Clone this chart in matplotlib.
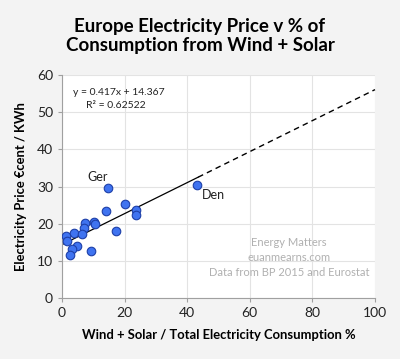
import matplotlib
matplotlib.use("Agg")
import matplotlib.pyplot as plt
import numpy as np

plt.rcParams['font.family'] = ['Lato', 'DejaVu Sans']

# share of wind + solar in electricity consumption (%) and price (€cent/KWh)
wind_solar = [14.6, 43.0, 20.2, 13.9, 23.6, 23.6, 7.2, 10.2, 10.7, 7.1,
              17.2, 3.8, 6.3, 1.4, 1.7, 4.8, 3.3, 2.6, 9.3]
price = [29.7, 30.4, 25.4, 23.4, 23.8, 22.3, 20.2, 20.4, 20.0, 18.7,
         18.0, 17.6, 17.2, 16.7, 15.4, 14.1, 13.1, 11.5, 12.6]
labels = {"Ger": (14.6, 29.7), "Den": (43.0, 30.4)}

slope = 0.417
intercept = 14.367
r2 = 0.62522

fig = plt.figure(figsize=(4.0, 3.59), dpi=100, facecolor="#f3f3f3")
ax = fig.add_axes([62 / 400, 1 - 298 / 359, 313 / 400, 223 / 359])
ax.set_facecolor("white")

ax.set_xlim(0, 100)
ax.set_ylim(0, 60)
ax.set_xticks(range(0, 101, 20))
ax.set_yticks(range(0, 61, 10))
ax.grid(True, color="#e3e3e3", linewidth=0.8)
ax.set_axisbelow(True)
for s in ["top", "right"]:
    ax.spines[s].set_visible(False)
for s in ["left", "bottom"]:
    ax.spines[s].set_color("#a0a0a0")
ax.tick_params(colors="#a0a0a0", labelcolor="#222222", labelsize=10, length=3)

# trend line: solid over data range, dashed forecast to 100
x_solid = np.array([0, 43.5])
x_dash = np.array([43.5, 100])
ax.plot(x_solid, slope * x_solid + intercept, color="black", lw=0.9, zorder=2)
ax.plot(x_dash, slope * x_dash + intercept, color="black", lw=1.0,
        ls=(0, (4, 3)), zorder=2, clip_on=False)

ax.scatter(wind_solar, price, s=38, color="#3f73f0", edgecolors="#1d3fa8",
           linewidths=0.8, zorder=3)

ax.annotate("Ger", labels["Ger"], xytext=(-14.5, 4.5), textcoords="offset points",
            fontsize=9, color="#222222")
ax.annotate("Den", labels["Den"], xytext=(3.5, -10), textcoords="offset points",
            fontsize=9, color="#222222")

ax.text(18, 55.3, f"y = {slope}x + {intercept}", fontsize=7.5, ha="center",
        va="center", color="#222222")
ax.text(17.2, 51.8, f"R² = {r2}", fontsize=7.5, ha="center", va="center",
        color="#222222")

ax.text(72.6, 11.0, "Energy Matters\neuanmearns.com\nData from BP 2015 and Eurostat",
        fontsize=8, ha="center", va="center", color="#b0b0b0",
        linespacing=1.45)

ax.set_xlabel("Wind + Solar / Total Electricity Consumption %", fontsize=9.4,
              fontweight="bold", labelpad=7)
ax.set_ylabel("Electricity Price €cent / KWh", fontsize=9.4, fontweight="bold",
              labelpad=7)

fig.text(0.5, 1 - 36 / 359, "Europe Electricity Price v % of\nConsumption from Wind + Solar",
         ha="center", va="center", fontsize=13.5, fontweight="bold",
         linespacing=1.2)

fig.savefig("out.png", dpi=100, facecolor=fig.get_facecolor())
